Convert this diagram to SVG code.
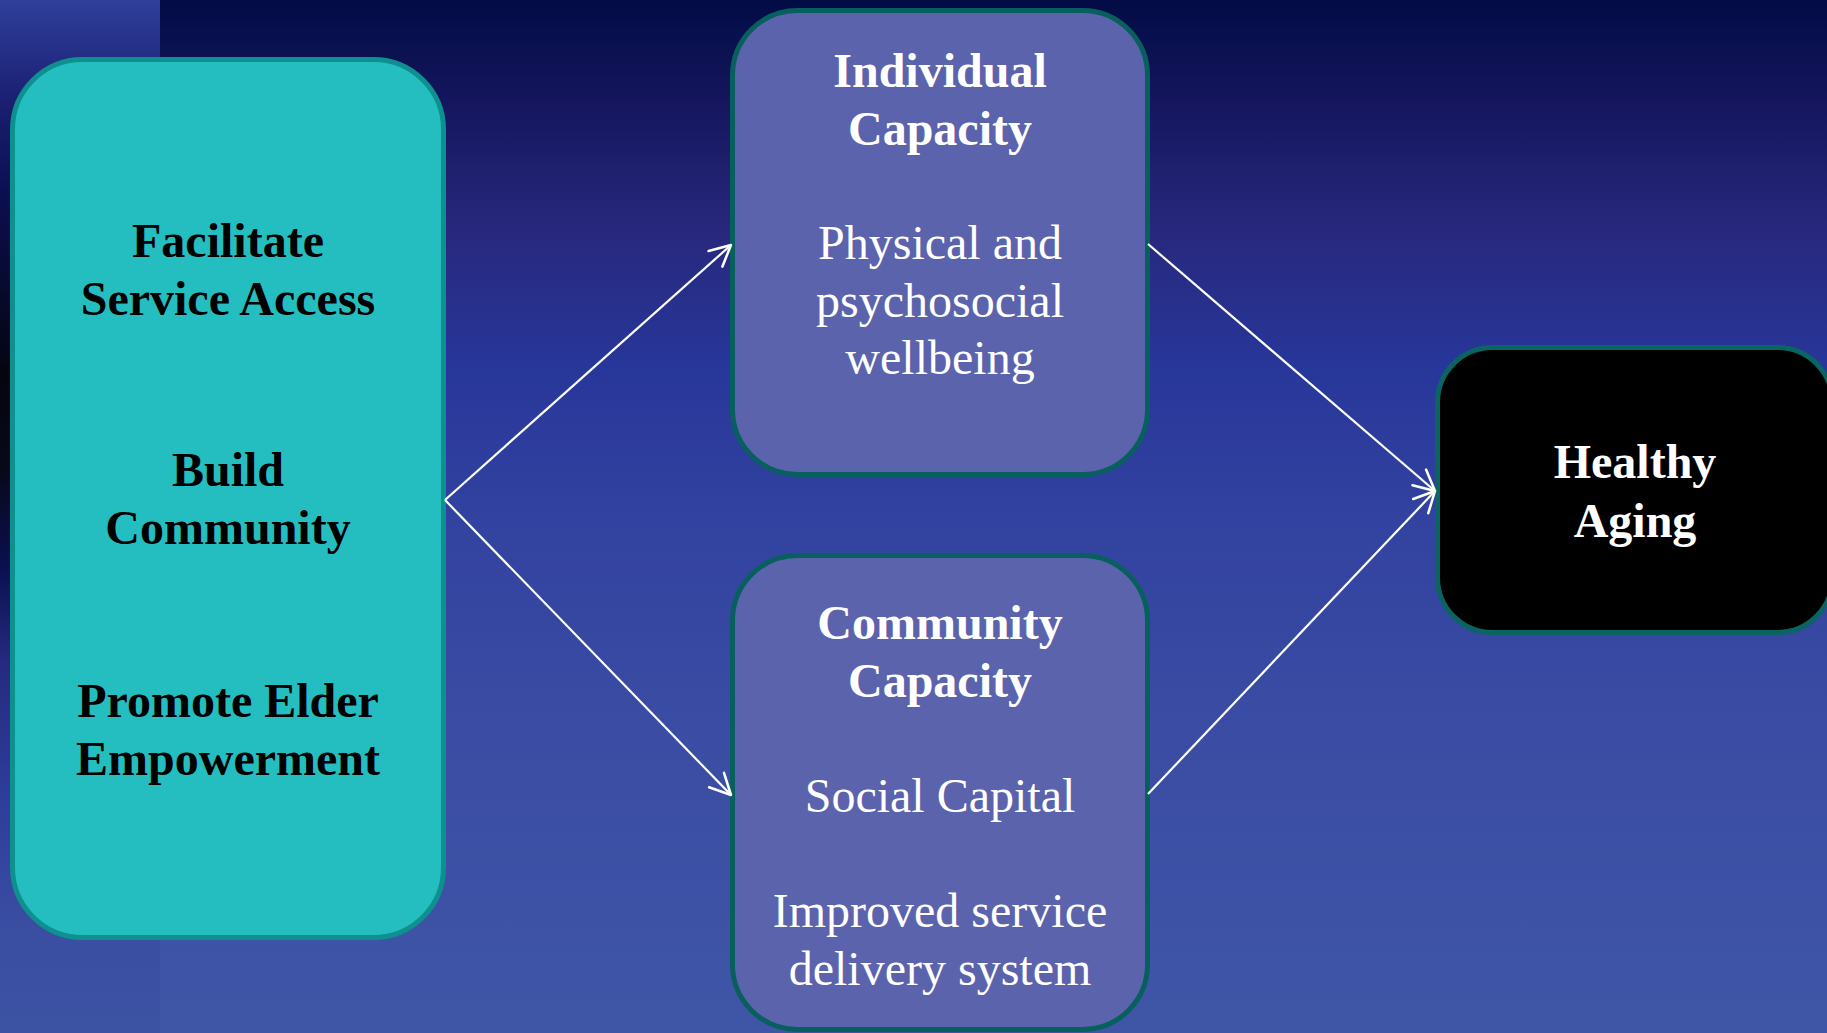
<svg xmlns="http://www.w3.org/2000/svg" width="1827" height="1033" viewBox="0 0 1827 1033">
  <defs>
    <linearGradient id="bg" x1="0" y1="0" x2="0" y2="1">
      <stop offset="0" stop-color="#020c45"/>
      <stop offset="0.1" stop-color="#15165e"/>
      <stop offset="0.22" stop-color="#27287c"/>
      <stop offset="0.35" stop-color="#273699"/>
      <stop offset="0.5" stop-color="#3242a0"/>
      <stop offset="0.7" stop-color="#3a4ca3"/>
      <stop offset="1" stop-color="#3f56a7"/>
    </linearGradient>
    <linearGradient id="strip" x1="0" y1="0" x2="0" y2="1">
      <stop offset="0" stop-color="#2f3f9b"/>
      <stop offset="0.1" stop-color="#1a1f70"/>
      <stop offset="0.19" stop-color="#0a0f50"/>
      <stop offset="0.36" stop-color="#050510"/>
      <stop offset="0.45" stop-color="#080818"/>
      <stop offset="0.55" stop-color="#0a1050"/>
      <stop offset="0.64" stop-color="#262a80"/>
      <stop offset="0.77" stop-color="#2d3d9a"/>
      <stop offset="0.9" stop-color="#3a4ea2"/>
      <stop offset="1" stop-color="#3c52a3"/>
    </linearGradient>
    <marker id="arrow" markerUnits="userSpaceOnUse" markerWidth="30" markerHeight="30" viewBox="-22 -12 26 24" refX="0" refY="0" orient="auto">
      <path d="M-18,-9 L0,0 L-18,9" fill="none" stroke="#ffffff" stroke-width="2.2" stroke-linecap="round" stroke-linejoin="round"/>
    </marker>
    <style>
      .bold { font-family: "Liberation Serif", "Times New Roman", serif; font-weight: bold; font-size: 48px; text-anchor: middle; }
      .reg { font-family: "Liberation Serif", "Times New Roman", serif; font-size: 48px; text-anchor: middle; fill: #ffffff; }
      .dark { fill: #000000; }
      .light { fill: #ffffff; }
      .teal { fill: #25bec0; stroke: #0f9090; stroke-width: 5; }
      .purple { fill: #5c63ad; stroke: #08605e; stroke-width: 5; }
      .black { fill: #000000; stroke: #0a6562; stroke-width: 5; }
      .conn { stroke: #ffffff; stroke-width: 2.2; fill: none; marker-end: url(#arrow); }
    </style>
  </defs>

  <rect x="0" y="0" width="1827" height="1033" fill="url(#bg)"/>
  <rect x="0" y="0" width="160" height="1033" fill="url(#strip)"/>

  <g id="node-strategies">
    <rect class="teal" x="12.5" y="59.5" width="431" height="878" rx="70" ry="70"/>
    <text class="bold dark" x="228" y="257">Facilitate</text>
    <text class="bold dark" x="228" y="315">Service Access</text>
    <text class="bold dark" x="228" y="486">Build</text>
    <text class="bold dark" x="228" y="544">Community</text>
    <text class="bold dark" x="228" y="717">Promote Elder</text>
    <text class="bold dark" x="228" y="775">Empowerment</text>
  </g>

  <g id="node-individual">
    <rect class="purple" x="732.5" y="10.5" width="415" height="464" rx="65" ry="65"/>
    <text class="bold light" x="940" y="87">Individual</text>
    <text class="bold light" x="940" y="145">Capacity</text>
    <text class="reg" x="940" y="259">Physical and</text>
    <text class="reg" x="940" y="317">psychosocial</text>
    <text class="reg" x="940" y="374">wellbeing</text>
  </g>

  <g id="node-community">
    <rect class="purple" x="732.5" y="555.5" width="415" height="474" rx="65" ry="65"/>
    <text class="bold light" x="940" y="639">Community</text>
    <text class="bold light" x="940" y="697">Capacity</text>
    <text class="reg" x="940" y="812">Social Capital</text>
    <text class="reg" x="940" y="927">Improved service</text>
    <text class="reg" x="940" y="985">delivery system</text>
  </g>

  <g id="node-healthy">
    <rect class="black" x="1437.5" y="347.5" width="395" height="285" rx="55" ry="55"/>
    <text class="bold light" x="1635" y="478">Healthy</text>
    <text class="bold light" x="1635" y="537">Aging</text>
  </g>

  <g id="connectors">
    <line class="conn" x1="445" y1="500" x2="731" y2="245"/>
    <line class="conn" x1="445" y1="500" x2="731" y2="795"/>
    <line class="conn" x1="1148" y1="244" x2="1435" y2="491"/>
    <line class="conn" x1="1148" y1="794" x2="1435" y2="491"/>
  </g>
</svg>
